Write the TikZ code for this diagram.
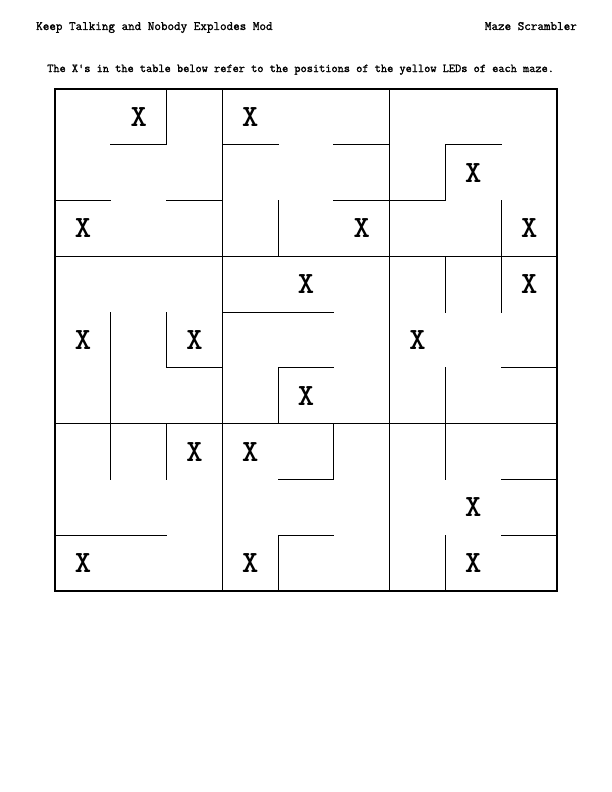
\documentclass[tikz,border=0pt]{standalone}
\newcommand\heavytext[1]{\special{pdf:literal direct 2 Tr 0.2 w}#1\special{pdf:literal direct 0 Tr}}
\begin{document}
\begin{tikzpicture}[x=1pt,y=-1pt,
  wall/.style={line width=1.1pt,line cap=rect},
  frame/.style={line width=1.2pt},
  led/.style={font=\ttfamily\bfseries\fontsize{31}{31}\selectfont, inner sep=0pt},
  head/.style={font=\ttfamily\fontsize{12.75}{13}\selectfont, inner sep=0pt},
  sub/.style={font=\ttfamily\fontsize{12}{12}\selectfont, inner sep=0pt}]
\useasboundingbox (0,0) rectangle (612,792);
\node[head, anchor=base west] (title) at (36,30) {\heavytext{Keep Talking and Nobody Explodes Mod}};
\node[head, anchor=base east] (name) at (577,30) {\heavytext{Maze Scrambler}};
\node[sub, anchor=base west] (subtitle) at (47,72) {\heavytext{The X's in the table below refer to the positions of the yellow LEDs of each maze.}};
\begin{scope}[shift={(55,89)}, x=55.78pt, y=-55.78pt]
  \draw[frame] (0,0) rectangle (9,9);
  \draw[frame] (3,0)--(3,9) (6,0)--(6,9) (0,3)--(9,3) (0,6)--(9,6);
  % maze 1
  \draw[wall] (1,1)--(2,1)--(2,0) (0,2)--(1,2) (2,2)--(3,2);
  % maze 2
  \draw[wall] (3,1)--(4,1) (5,1)--(6,1) (5,2)--(6,2) (4,2)--(4,3);
  % maze 3
  \draw[wall] (6,2)--(7,2)--(7,1)--(8,1) (8,2)--(8,3);
  % maze 4
  \draw[wall] (1,4)--(1,6) (2,4)--(2,5)--(3,5);
  % maze 5
  \draw[wall] (3,4)--(5,4) (4,6)--(4,5)--(5,5);
  % maze 6
  \draw[wall] (7,3)--(7,4) (8,3)--(8,4) (7,5)--(7,6) (8,5)--(9,5);
  % maze 7
  \draw[wall] (1,6)--(1,7) (2,6)--(2,7) (0,8)--(2,8);
  % maze 8
  \draw[wall] (4,7)--(5,7)--(5,6) (4,9)--(4,8)--(5,8);
  % maze 9
  \draw[wall] (7,6)--(7,7) (8,7)--(9,7) (8,8)--(9,8) (7,8)--(7,9);
  % LEDs
  \foreach \p/\n in {{1.5,0.5}/a,{3.5,0.5}/b,{7.5,1.5}/c,{0.5,2.5}/d,{5.5,2.5}/e,{8.5,2.5}/f,
    {4.5,3.5}/g,{8.5,3.5}/h,{0.5,4.5}/i,{2.5,4.5}/j,{6.5,4.5}/k,{4.5,5.5}/l,
    {2.5,6.5}/m,{3.5,6.5}/n,{7.5,7.5}/o,{0.5,8.5}/p,{3.5,8.5}/q,{7.5,8.5}/r}
    \node[led] (x\n) at (\p) {X};
\end{scope}
\end{tikzpicture}
\end{document}
